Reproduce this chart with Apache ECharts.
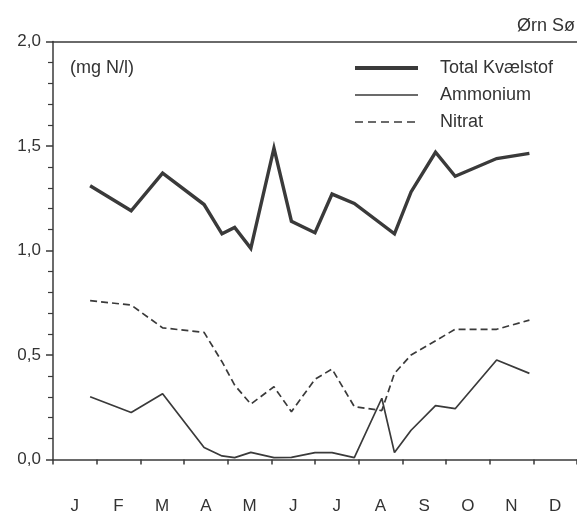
<!DOCTYPE html>
<html>
<head>
<meta charset="utf-8">
<script src="https://cdn.jsdelivr.net/npm/echarts@6/dist/echarts.min.js"></script>
<style>
  html, body { margin: 0; padding: 0; background: #fff; }
  #chart { width: 577px; height: 512px; }
</style>
</head>
<body>
<div id="chart"></div>
<script>
// Sampling dates, in months since 1 January
var sampleMonth = [0.85, 1.79, 2.51, 3.46, 3.87, 4.16, 4.53, 5.06, 5.46, 6.0, 6.39, 6.9, 7.53, 7.82, 8.2, 8.76, 9.21, 10.16, 10.91];

// Concentrations (mg N/l); null = not measured on that date
var totalN   = [1.31, 1.19, 1.37, 1.22, 1.08, 1.11, 1.01, 1.49, 1.14, 1.085, 1.27, 1.225, null, 1.08, 1.28, 1.47, 1.355, 1.44, 1.465];
var ammonium = [0.30, 0.225, 0.315, 0.057, 0.017, 0.009, 0.034, 0.009, 0.01, 0.033, 0.033, 0.009, 0.293, 0.033, 0.14, 0.258, 0.243, 0.476, 0.412];
var nitrat   = [0.76, 0.739, 0.63, 0.608, 0.468, 0.356, 0.265, 0.348, 0.229, 0.384, 0.433, 0.253, 0.234, 0.412, 0.5, null, 0.623, 0.623, 0.667];

var months = ['J', 'F', 'M', 'A', 'M', 'J', 'J', 'A', 'S', 'O', 'N', 'D'];
var yTicks = { min: 0, max: 2, step: 0.5 };

var ink = '#3a3a3a';
var textInk = '#333';
var font = 'Liberation Sans, Arial, Helvetica, sans-serif';

var thick = 3.4, thin = 1.7, dash = [7, 4];

function pairs(values) {
  return sampleMonth.map(function (m, i) { return [m, values[i]]; });
}

var chart = echarts.init(document.getElementById('chart'), null, { renderer: 'canvas' });

chart.setOption({
  animation: false,
  backgroundColor: '#fff',
  textStyle: { fontFamily: font },
  title: [
    {
      text: 'Ørn Sø',
      right: 2, top: 17, padding: 0,
      textStyle: { fontSize: 18, fontWeight: 'normal', color: textInk, fontFamily: font }
    },
    {
      text: '(mg N/l)',
      left: 70, top: 59, padding: 0,
      textStyle: { fontSize: 18, fontWeight: 'normal', color: textInk, fontFamily: font }
    }
  ],
  legend: {
    orient: 'vertical',
    left: 353, top: 59,
    padding: 0,
    itemWidth: 63, itemHeight: 14, itemGap: 9,
    // line-only keys: the point marker is hidden
    itemStyle: { opacity: 0 },
    textStyle: { fontSize: 18, color: textInk, fontFamily: font, padding: [0, 0, 0, 17], lineHeight: 18 },
    data: [
      { name: 'Total Kvælstof', lineStyle: { width: 4, color: ink } },
      { name: 'Ammonium', lineStyle: { width: 1.6, color: ink } },
      { name: 'Nitrat', lineStyle: { width: 1.6, color: ink, type: [8, 5] } }
    ]
  },
  grid: { left: 53, right: 0, top: 41.5, bottom: 52.5, outerBoundsMode: 'none' },
  xAxis: [
    {
      type: 'category',
      data: months,
      boundaryGap: true,
      position: 'bottom',
      axisLine: { show: true, lineStyle: { color: ink, width: 1.5 } },
      axisTick: { show: true, inside: false, length: 5, alignWithLabel: false, lineStyle: { color: ink, width: 1.5 } },
      axisLabel: { margin: 38, fontSize: 17, color: textInk, fontFamily: font },
      splitLine: { show: false }
    },
    {
      type: 'value',
      min: 0, max: 12,
      position: 'top',
      axisLine: { show: true, onZero: false, lineStyle: { color: ink, width: 1.5 } },
      axisTick: { show: false },
      axisLabel: { show: false },
      splitLine: { show: false }
    }
  ],
  yAxis: {
    type: 'value',
    min: yTicks.min, max: yTicks.max, interval: yTicks.step,
    axisLine: { show: true, lineStyle: { color: ink, width: 1.5 } },
    axisTick: { show: true, length: 7, lineStyle: { color: ink, width: 1.5 } },
    minorTick: { show: true, splitNumber: 5, length: 5, lineStyle: { color: ink, width: 1.2 } },
    axisLabel: {
      margin: 12, fontSize: 17, color: textInk, fontFamily: font,
      formatter: function (v) { return v.toFixed(1).replace('.', ','); }
    },
    splitLine: { show: false }
  },
  series: [
    {
      name: 'Total Kvælstof',
      type: 'line',
      xAxisIndex: 1,
      data: pairs(totalN),
      connectNulls: true,
      symbol: 'none',
      lineStyle: { color: ink, width: thick, join: 'miter' },
      itemStyle: { color: ink }
    },
    {
      name: 'Ammonium',
      type: 'line',
      xAxisIndex: 1,
      data: pairs(ammonium),
      connectNulls: true,
      symbol: 'none',
      lineStyle: { color: ink, width: thin },
      itemStyle: { color: ink }
    },
    {
      name: 'Nitrat',
      type: 'line',
      xAxisIndex: 1,
      data: pairs(nitrat),
      connectNulls: true,
      symbol: 'none',
      lineStyle: { color: ink, width: thin, type: dash },
      itemStyle: { color: ink }
    }
  ]
});
</script>
</body>
</html>
